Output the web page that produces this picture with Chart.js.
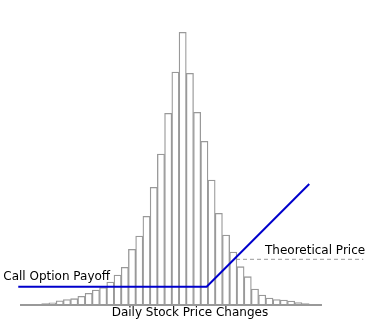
<!DOCTYPE html>
<html>
<head>
<meta charset="utf-8">
<script src="https://cdn.jsdelivr.net/npm/chart.js@4"></script>
<style>
  html, body { margin: 0; padding: 0; background: #fff; }
  #wrap { width: 372px; height: 319px; position: relative; }
</style>
</head>
<body>
<div id="wrap"><canvas id="chart"></canvas></div>
<script>
// histogram of daily price changes, one value per bin (left to right)
const binFreq = [
  1.3, 2.2, 4.2, 5.5, 6.3, 8.7, 11.7, 15, 17.5, 23, 30, 37.7, 55.7, 69, 88.7, 117.7, 151, 191.7, 233,
  272.7,
  231.7, 192.7, 163.7, 125, 91.7, 70, 53, 38.3, 28.3, 16, 10, 7, 5.5, 5, 4, 2.5, 1.3
];

// call option payoff: flat, then rising after the strike
const payoffX = [-3.74, 22.32, 36.51];
const payoffY = [18.3, 18.3, 121];

// theoretical price level (dashed)
const priceX = [26.38, 43.98];
const priceY = [45.7, 45.7];

// horizontal axis baseline
const axisX = [-3.5, 38.27];
const axisY = [0, 0];

// free text: [text, x, y, align]
const notes = [
  { text: 'Call Option Payoff', x: -5.81, y: 27.7, align: 'left' },
  { text: 'Theoretical Price', x: 30.39, y: 54.3, align: 'left' },
  { text: 'Daily Stock Price Changes', x: 20.0, y: -8.3, align: 'center' }
];

const GRAY = '#999999';
const BLUE = '#0000cc';
const FONT = '"DejaVu Sans", Verdana, sans-serif';

Chart.defaults.font.family = FONT;
Chart.defaults.font.size = 12;
Chart.defaults.color = '#000';

const toPts = (xs, ys) => xs.map((x, i) => ({ x, y: ys[i] }));

// draws the text labels at data coords
const notePlugin = {
  id: 'notes',
  afterDatasetsDraw(chart){
    const { ctx, scales:{x, y} } = chart;
    ctx.save();
    ctx.fillStyle = '#000';
    ctx.font = '12px ' + FONT;
    ctx.textBaseline = 'middle';
    notes.forEach(n => {
      ctx.textAlign = n.align;
      ctx.fillText(n.text, x.getPixelForValue(n.x), y.getPixelForValue(n.y));
    });
    ctx.restore();
  }
};

new Chart(document.getElementById('chart'), {
  type: 'bar',
  data: {
    datasets: [
      { type:'line', data: toPts(payoffX, payoffY), borderColor: BLUE, borderWidth: 2,
        pointRadius: 0, tension: 0, fill: false, order: 0, clip: false },
      { type:'line', data: toPts(priceX, priceY), borderColor: GRAY, borderWidth: 1,
        borderDash: [4, 3], pointRadius: 0, fill: false, order: 1, clip: false },
      { type:'line', data: toPts(axisX, axisY), borderColor: GRAY, borderWidth: 2,
        pointRadius: 0, fill: false, order: 2, clip: false },
      { type:'bar', data: binFreq.map((v, i) => ({ x: i, y: v })), backgroundColor: '#fff',
        borderColor: GRAY, borderWidth: 1.3, barPercentage: 1, categoryPercentage: 1, order: 3 }
    ]
  },
  options: {
    responsive: true,
    maintainAspectRatio: false,
    animation: false,
    devicePixelRatio: 1,
    layout: { padding: { top: 0, left: 0, right: 0, bottom: 12 }, autoPadding: false },
    plugins: { legend: { display: false }, tooltip: { enabled: false } },
    scales: {
      x: { type: 'linear', display: false, min: -6.266, max: 45.19, offset: false },
      y: { display: false, min: -2, max: 305 }
    }
  },
  plugins: [notePlugin]
});
</script>
</body>
</html>
